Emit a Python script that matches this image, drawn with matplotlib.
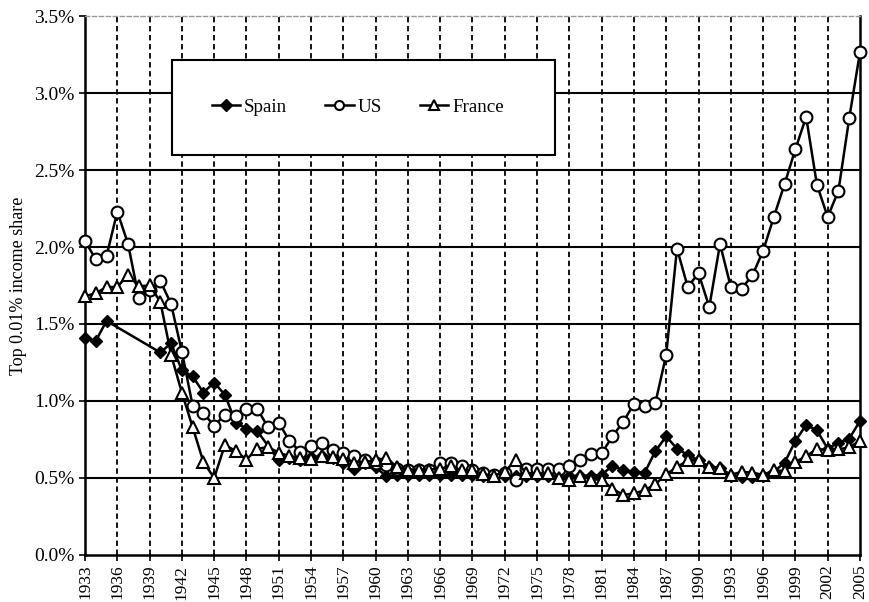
import numpy as np
import matplotlib
matplotlib.use("Agg")
from matplotlib import pyplot as plt
from matplotlib.patches import Rectangle

plt.rcParams['font.family'] = ['Liberation Serif', 'DejaVu Serif']

years = np.arange(1933, 2006)

us_share = [
    2.04, 1.92, 1.94, 2.23, 2.02, 1.67, 1.72, 1.78, 1.63, 1.32,
    0.97, 0.92, 0.84, 0.91, 0.90, 0.95, 0.95, 0.83, 0.86, 0.74,
    0.67, 0.71, 0.73, 0.68, 0.665, 0.64, 0.62, 0.60, 0.585, 0.56,
    0.555, 0.55, 0.55, 0.60, 0.60, 0.58, 0.55, 0.535, 0.52, 0.53,
    0.49, 0.56, 0.56, 0.56, 0.56, 0.58, 0.615, 0.655, 0.66, 0.77,
    0.865, 0.98, 0.97, 0.99, 1.30, 1.99, 1.74, 1.83, 1.61, 2.02,
    1.74, 1.73, 1.815, 1.975, 2.195, 2.41, 2.635, 2.845, 2.405, 2.195,
    2.365, 2.835, 3.265,
]

france_share = [
    1.68, 1.70, 1.74, 1.74, 1.82, 1.745, 1.75, 1.645, 1.30, 1.055,
    0.83, 0.605, 0.50, 0.715, 0.675, 0.62, 0.69, 0.70, 0.665, 0.64,
    0.63, 0.625, 0.64, 0.635, 0.625, 0.60, 0.605, 0.615, 0.63, 0.57,
    0.555, 0.555, 0.555, 0.56, 0.575, 0.55, 0.55, 0.525, 0.515, 0.54,
    0.615, 0.53, 0.53, 0.53, 0.50, 0.49, 0.515, 0.49, 0.49, 0.43,
    0.39, 0.40, 0.42, 0.46, 0.525, 0.57, 0.615, 0.615, 0.57, 0.565,
    0.52, 0.54, 0.535, 0.52, 0.55, 0.545, 0.605, 0.64, 0.69, 0.68,
    0.685, 0.70, 0.74,
]

# Spain has gaps (1936-39, 1950); line is drawn straight across them
spain_years = [1933, 1934, 1935] + list(range(1940, 1950)) + list(range(1951, 2006))
spain_share = [
    1.41, 1.39, 1.52,
    1.315, 1.375, 1.20, 1.16, 1.055, 1.12, 1.04, 0.86, 0.82, 0.805,
    0.615, 0.63, 0.615, 0.635, 0.64, 0.63, 0.60, 0.56, 0.60, 0.57,
    0.51, 0.52, 0.52, 0.52, 0.52, 0.52, 0.52, 0.52, 0.52, 0.515,
    0.515, 0.515, 0.515, 0.515, 0.515, 0.515, 0.51, 0.51, 0.515, 0.515,
    0.52, 0.58, 0.55, 0.54, 0.535, 0.675, 0.77, 0.69, 0.65, 0.615,
    0.57, 0.565, 0.51, 0.505, 0.505, 0.515, 0.54, 0.60, 0.74, 0.845,
    0.81, 0.69, 0.73, 0.755, 0.87,
]

xticks = np.arange(1933, 2006, 3)
yticks = np.arange(0, 3.51, 0.5)

fig = plt.figure(figsize=(8.69, 6.02), dpi=100)
ax = fig.add_axes([0.0978, 0.0781, 0.8918, 0.8953])

ax.set_xlim(1933, 2005)
ax.set_ylim(0, 3.5)

# grid: solid horizontals, dashed verticals
for y in yticks[1:-1]:
    ax.axhline(y, color='black', lw=1.5, zorder=1)
for x in xticks[1:-1]:
    ax.axvline(x, color='black', lw=1.3, ls=(0, (3, 2)), zorder=1)

ax.plot(spain_years, spain_share, color='black', lw=1.8, marker='D', ms=6.5,
        mfc='black', mec='black', label='Spain', zorder=3, clip_on=False)
ax.plot(years, us_share, color='black', lw=1.8, marker='o', ms=8.5,
        mfc='white', mec='black', mew=1.5, label='US', zorder=3, clip_on=False)
ax.plot(years, france_share, color='black', lw=1.8, marker='^', ms=8.5,
        mfc='white', mec='black', mew=1.5, label='France', zorder=3, clip_on=False)

ax.set_xticks(xticks)
ax.set_xticklabels([str(y) for y in xticks], rotation=90, fontsize=12.5)
ax.set_yticks(yticks)
ax.set_yticklabels(['{:.1f}%'.format(v) for v in yticks], fontsize=14)
ax.tick_params(axis='both', direction='out', length=4, width=1.2, color='black')
ax.tick_params(axis='x', pad=3)
ax.set_ylabel('Top 0.01% income share', fontsize=13, labelpad=5)

for side in ['left', 'bottom', 'right']:
    ax.spines[side].set_linewidth(1.8)
ax.spines['top'].set_color('#999999')
ax.spines['top'].set_linewidth(1.0)
ax.spines['top'].set_linestyle((0, (3, 2)))

# legend box
box = Rectangle((0.112, 0.742), 0.494, 0.176, transform=ax.transAxes,
                facecolor='white', edgecolor='black', lw=1.5, zorder=5)
ax.add_patch(box)
leg = ax.legend(loc='center left', bbox_to_anchor=(0.151, 0.831), ncol=3,
                frameon=False, fontsize=13.7, handlelength=1.5, handletextpad=0.2,
                columnspacing=2.0, borderpad=0)
leg.set_zorder(6)
for h in leg.legend_handles:
    h.set_markersize(6.5)

plt.savefig('out.png', dpi=100)
